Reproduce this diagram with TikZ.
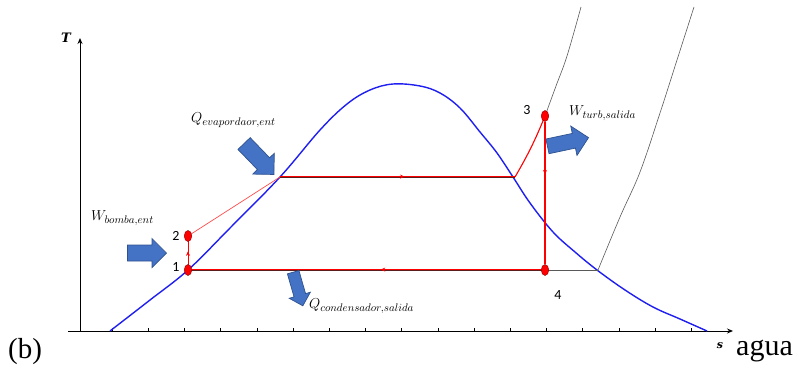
\documentclass[tikz,border=0pt]{standalone}
\usepackage{fontspec}
\newfontfamily\carlito{Carlito}
\newfontfamily\timesf{Liberation Serif}
\newfontfamily\axisfont{DejaVu Serif}
\usetikzlibrary{shapes.geometric,decorations.markings,arrows.meta}
\definecolor{bluearr}{HTML}{4472C4}
\definecolor{bluebord}{HTML}{2F528F}
\definecolor{domeblue}{HTML}{1F1FF0}
\definecolor{darkred}{HTML}{5A1E1E}
\definecolor{brightred}{HTML}{FF0000}
\tikzset{
  bluearrow/.style={draw=bluebord, fill=bluearr, line width=0.7pt, line join=miter},
  statept/.style={ellipse, draw=red!60!black, fill=red, line width=0.5pt,
     inner sep=0pt, minimum width=7.5pt, minimum height=11pt},
  numlbl/.style={font=\carlito\fontsize{14}{16}\selectfont, inner sep=0pt},
  qlbl/.style={font=\fontsize{15}{17}\selectfont, inner sep=0pt, anchor=west},
  axlbl/.style={font=\axisfont\bfseries\itshape\fontsize{#1}{#1}\selectfont, inner sep=0pt},
  cycle/.style={draw=red, line width=0.9pt},
  thinred/.style={draw=red!70, line width=0.7pt},
  darkline/.style={draw=darkred, line width=1.6pt},
  isobar/.style={draw=black!65, line width=0.6pt},
  midarrow/.style={postaction={decorate}, decoration={markings,
     mark=at position #1 with {\arrow[red]{Stealth[length=4.5pt,width=4pt]}}}},
  axisline/.style={draw=black, line width=1pt},
}
% #1 x, #2 y (centre), #3 angle, #4 length, #5 head width, #6 shaft width
\newcommand{\blkarrow}[6]{%
  \begin{scope}[shift={(#1,#2)}, rotate=#3]
    \draw[bluearrow] ({-#4/2},{-#6/2}) -- ({#4/2-#5/2},{-#6/2}) -- ({#4/2-#5/2},{-#5/2})
      -- ({#4/2},0) -- ({#4/2-#5/2},{#5/2}) -- ({#4/2-#5/2},{#6/2}) -- ({-#4/2},{#6/2}) -- cycle;
  \end{scope}}
\begin{document}
\begin{tikzpicture}[x=1pt,y=-1pt]
\useasboundingbox (0,0) rectangle (800,364);
% axes
\coordinate (xs) at (68,331);
\coordinate (xe) at (733,331);
\coordinate (o) at (80,331);
\coordinate (ye) at (80,38);
\draw[axisline, -{Stealth[length=6pt,width=5pt]}] (xs) -- (xe);
\draw[axisline, -{Stealth[length=6pt,width=5pt]}] (o) -- (ye);
\foreach \k in {0,...,16} {
  \draw[black, line width=0.5pt] ({112+36.2*\k},331) -- ({112+36.2*\k},328);
}
\node[axlbl=13] (Tl) at (66,38) {T};
\node[axlbl=11] (sl) at (720,346) {s};
\node[font=\timesf\fontsize{30}{31}\selectfont, inner sep=0pt, anchor=base west] (agua) at (736,355) {agua};
\node[font=\timesf\fontsize{29}{30}\selectfont, inner sep=0pt, anchor=base west] (bl) at (8,358) {(b)};

% saturation dome
\draw[domeblue, line width=1.4pt] plot[smooth, tension=0.6] coordinates {
 (110,331) (150,300) (188,270) (230,228) (280,177) (320,130) (347,104) (370,90)
 (393,84) (420,86) (440,93) (460,108) (480,132) (497,153) (513,177) (530,203)
 (553,232) (575,252) (597,270) (625,290) (653,307) (680,319) (707,331)};

% state points
\coordinate (pa) at (280,177);
\coordinate (pb) at (515,177);
\coordinate (pc) at (598,270);

% isobars
\draw[isobar] plot[smooth, tension=0.6] coordinates {(545,116) (556,86) (567,56) (581,7)};
\draw[isobar] plot[smooth, tension=0.6] coordinates {(598,270) (620,217) (640,172) (660,113) (677,60) (694,7)};

% cycle lines
\draw[thinred] (188,236) -- (pa);
\draw[darkline] (pa) -- (pb);
\draw[cycle, line width=0.8pt, midarrow=0.53] ([yshift=0.4pt]pa) -- ([yshift=0.4pt]pb);
\draw[cycle, line width=1.1pt] (pb) to[bend right=4] (545,116);
\draw[isobar] (545,270) -- (pc);
\draw[darkline] (545,270) -- (188,270);
\draw[cycle, line width=0.8pt, midarrow=0.46] ([yshift=0.4pt]545,270) -- ([yshift=0.4pt]188,270);
\draw[cycle, line width=1pt, midarrow=0.55] (188,270) -- (188,236);

\node[statept] (p1) at (188,270) {};
\node[statept] (p2) at (188,236) {};
\node[statept] (p3) at (545,116) {};
\node[statept] (p4) at (545,270) {};
\draw[draw=brightred, line width=1.4pt, midarrow=0.37] (p3.south) -- (p4.north);

\node[numlbl] (n1) at (176,267) {1};
\node[numlbl] (n2) at (176,236) {2};
\node[numlbl] (n3) at (527,110) {3};
\node[numlbl] (n4) at (558,295) {4};

% block arrows
\blkarrow{259}{159}{-46}{43}{30}{17}
\blkarrow{147}{253}{0}{39}{29}{16}
\blkarrow{568}{142}{12}{42}{30}{15}
\blkarrow{298}{289}{-74}{35}{22}{12}

% labels
\node[qlbl] (lqe) at (191,120) {$Q_{evapordaor,ent}$};
\node[qlbl] (lwb) at (91,218) {$W_{bomba,ent}$};
\node[qlbl] (lwt) at (569,113) {$W_{turb,salida}$};
\node[qlbl] (lqc) at (309,306) {$Q_{condensador,salida}$};
\end{tikzpicture}
\end{document}
